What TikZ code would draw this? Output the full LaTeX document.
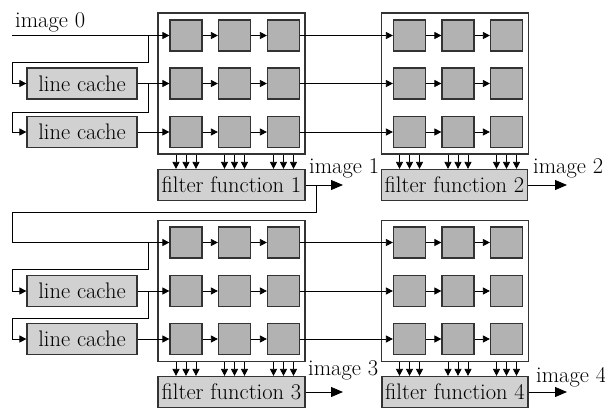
\documentclass[tikz,border=0pt]{standalone}
\usepackage{fontspec}
\usepackage{tikz}
\usetikzlibrary{arrows.meta, calc}
\tikzset{
    cell/.style={rectangle, draw=black!80, line width=1.2pt, fill=black!30, minimum width=32pt, minimum height=31pt},
    stagebox/.style={rectangle, draw=black!80, line width=1.2pt, minimum width=147pt, minimum height=141pt},
    procbox/.style={rectangle, draw=black!80, line width=1.2pt, fill=black!18, minimum height=31pt, inner sep=0pt, font=\fontsize{22.5}{23}\selectfont},
    imgtext/.style={inner sep=0pt, font=\fontsize{22.5}{23}\selectfont},
    arrow/.style={->, >={Triangle[length=7pt,width=7pt]}, line width=0.8pt},
    bigarrow/.style={->, >={Triangle[length=12pt,width=10pt]}, line width=0.8pt}
}
\begin{document}
\begin{tikzpicture}[x=1pt, y=-1pt]
    \useasboundingbox (0,0) rectangle (605,408);
    % Stage frames
    \node (fa) [stagebox] at (231.5,83.5) {};
    \node (fb) [stagebox] at (455,83.5) {};
    \node (fc) [stagebox] at (231.5,291) {};
    \node (fd) [stagebox] at (455,291) {};

    % Window cells
    \foreach \r/\yt/\yb in {1/35.5/242.5, 2/83.5/291, 3/132/339} {
        \foreach \c/\xl/\xr in {1/186/409.5, 2/234.5/458, 3/283.5/506.5} {
            \node (a\r\c) [cell] at (\xl,\yt) {};
            \node (b\r\c) [cell] at (\xr,\yt) {};
            \node (c\r\c) [cell] at (\xl,\yb) {};
            \node (d\r\c) [cell] at (\xr,\yb) {};
        }
    }

    % Filter functions
    \node (ffa) [procbox, minimum width=147pt] at (231.5,185) {filter function 1};
    \node (ffb) [procbox, minimum width=146pt] at (454.5,185) {filter function 2};
    \node (ffc) [procbox, minimum width=147pt] at (231.5,392) {filter function 3};
    \node (ffd) [procbox, minimum width=146pt] at (455,392) {filter function 4};

    % Line caches
    \node (ca1) [procbox, minimum width=110pt] at (82,83.5) {line cache};
    \node (ca2) [procbox, minimum width=110pt] at (82,132) {line cache};
    \node (cc1) [procbox, minimum width=110pt] at (82,291) {line cache};
    \node (cc2) [procbox, minimum width=110pt] at (82,339) {line cache};

    % Row shifts
    \foreach \s/\t in {a/b, c/d} {
        \foreach \r in {1,2,3} {
            \draw[arrow] (\s\r1) -- (\s\r2);
            \draw[arrow] (\s\r2) -- (\s\r3);
            \draw[arrow] (\s\r3) -- (\t\r1);
            \draw[arrow] (\t\r1) -- (\t\r2);
            \draw[arrow] (\t\r2) -- (\t\r3);
        }
    }

    % Window to filter
    \foreach \s in {a,b,c,d} {
        \foreach \c in {1,2,3} {
            \foreach \d in {-10,0,10} {
                \draw[arrow] ($(f\s.south -| \s3\c)+(\d,0)$) -- ($(ff\s.north -| \s3\c)+(\d,0)$);
            }
        }
    }

    % First stage input
    \coordinate (in0) at (12,35.5);
    \coordinate (ja1) at (148,35.5);
    \coordinate (ja2) at (148,83.5);
    \node (lbl0) [imgtext, anchor=base west] at (15,27) {image 0};
    \draw[arrow] (in0) -- (a11);
    \draw[arrow] (ja1) |- (12,62) |- (ca1);
    \draw[arrow] (ca1) -- (a21);
    \draw[arrow] (ja2) |- (12,112) |- (ca2);
    \draw[arrow] (ca2) -- (a31);

    % Second stage input
    \coordinate (t1) at (316,185);
    \coordinate (jc1) at (148,242.5);
    \coordinate (jc2) at (148,291);
    \draw[arrow] (t1) |- (12,212) |- (c11);
    \draw[arrow] (jc1) |- (12,269) |- (cc1);
    \draw[arrow] (cc1) -- (c21);
    \draw[arrow] (jc2) |- (12,318) |- (cc2);
    \draw[arrow] (cc2) -- (c31);

    % Outputs
    \coordinate (o1) at (343,185);
    \coordinate (o2) at (567,185);
    \coordinate (o3) at (343,392);
    \coordinate (o4) at (567,392);
    \draw[bigarrow] (ffa) -- (o1);
    \draw[bigarrow] (ffb) -- (o2);
    \draw[bigarrow] (ffc) -- (o3);
    \draw[bigarrow] (ffd) -- (o4);
    \node (lbl1) [imgtext, anchor=base west] at (309,173) {image 1};
    \node (lbl2) [imgtext, anchor=base west] at (533,173) {image 2};
    \node (lbl3) [imgtext, anchor=base west] at (308,375) {image 3};
    \node (lbl4) [imgtext, anchor=base west] at (536,382) {image 4};
\end{tikzpicture}
\end{document}
